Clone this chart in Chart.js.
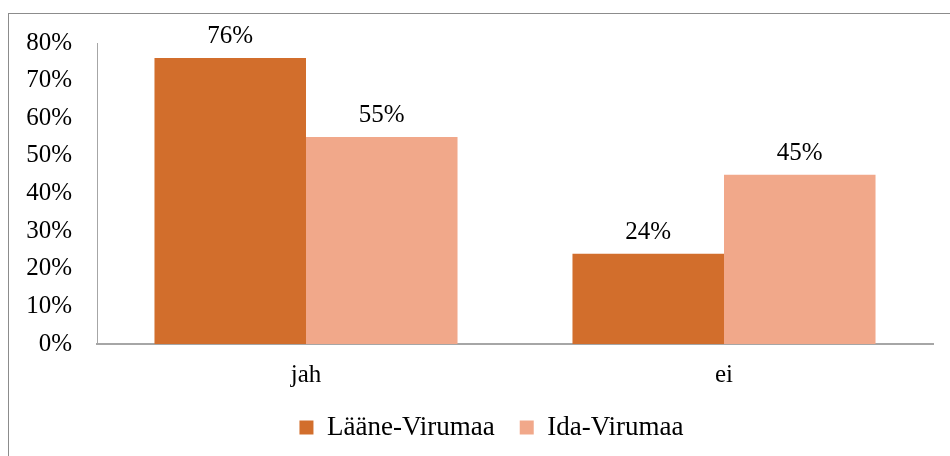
<!DOCTYPE html>
<html>
<head>
<meta charset="utf-8">
<script src="https://cdn.jsdelivr.net/npm/chart.js@4.4.1/dist/chart.umd.min.js"></script>
<style>
  html, body { margin: 0; padding: 0; background: #fff; }
  #wrap { width: 950px; height: 456px; }
</style>
</head>
<body>
<div id="wrap"><canvas id="chart" width="950" height="456"></canvas></div>
<script>
const categories = ['jah', 'ei'];
const laaneVirumaa = [76, 24];
const idaVirumaa = [55, 45];
const seriesNames = ['Lääne-Virumaa', 'Ida-Virumaa'];
const yTicks = [0, 10, 20, 30, 40, 50, 60, 70, 80];

const FONT = "'Liberation Serif', 'Times New Roman', serif";

// frame of the chart object, cut off at right and bottom like the original
const framePlugin = {
    id: 'frame',
    beforeDraw(chart) {
        const ctx = chart.ctx;
        ctx.save();
        ctx.strokeStyle = '#8c8c8c';
        ctx.lineWidth = 1;
        ctx.strokeRect(8.5, 13.5, 2000, 2000);
        ctx.restore();
    }
};

// the legend in the original sits a bit right of the canvas centre
const legendShift = {
    id: 'legendShift',
    afterLayout(chart) {
        if (chart.legend) chart.legend.left += 50;
    }
};

// value labels above the bars
const valueLabels = {
    id: 'valueLabels',
    afterDatasetsDraw(chart) {
        const ctx = chart.ctx;
        ctx.save();
        ctx.font = '25px ' + FONT;
        ctx.fillStyle = '#000';
        ctx.textAlign = 'center';
        ctx.textBaseline = 'alphabetic';
        chart.data.datasets.forEach((ds, i) => {
            chart.getDatasetMeta(i).data.forEach((bar, j) => {
                ctx.fillText(ds.data[j] + '%', bar.x, bar.y - 15);
            });
        });
        ctx.restore();
    }
};

new Chart(document.getElementById('chart'), {
    type: 'bar',
    data: {
        labels: categories,
        datasets: [
            {
                label: seriesNames[0],
                data: laaneVirumaa,
                backgroundColor: '#D26E2C',
                categoryPercentage: 0.725,
                barPercentage: 1.0
            },
            {
                label: seriesNames[1],
                data: idaVirumaa,
                backgroundColor: '#F1A88A',
                categoryPercentage: 0.725,
                barPercentage: 1.0
            }
        ]
    },
    options: {
        responsive: false,
        animation: false,
        layout: {
            padding: { top: 43, left: 0, right: 17, bottom: 5 }
        },
        scales: {
            x: {
                grid: { display: false, drawTicks: false },
                border: { display: true, color: '#a6a6a6', width: 2 },
                ticks: { color: '#000', font: { family: FONT, size: 25 }, padding: 16 },
                afterFit(scale) { scale.height = 45; }
            },
            y: {
                min: 0,
                max: 80,
                grid: { display: false, drawTicks: false },
                border: { display: true, color: '#a6a6a6', width: 1 },
                afterBuildTicks(scale) {
                    scale.ticks = yTicks.map(v => ({ value: v }));
                },
                ticks: {
                    color: '#000',
                    font: { family: FONT, size: 25 },
                    padding: 25,
                    callback: v => v + '%'
                },
                afterFit(scale) { scale.width = 97; }
            }
        },
        plugins: {
            legend: {
                position: 'bottom',
                labels: {
                    color: '#000',
                    font: { family: FONT, size: 27 },
                    boxWidth: 14,
                    boxHeight: 14,
                    padding: 25
                }
            },
            tooltip: { enabled: false }
        }
    },
    plugins: [framePlugin, legendShift, valueLabels]
});
</script>
</body>
</html>
